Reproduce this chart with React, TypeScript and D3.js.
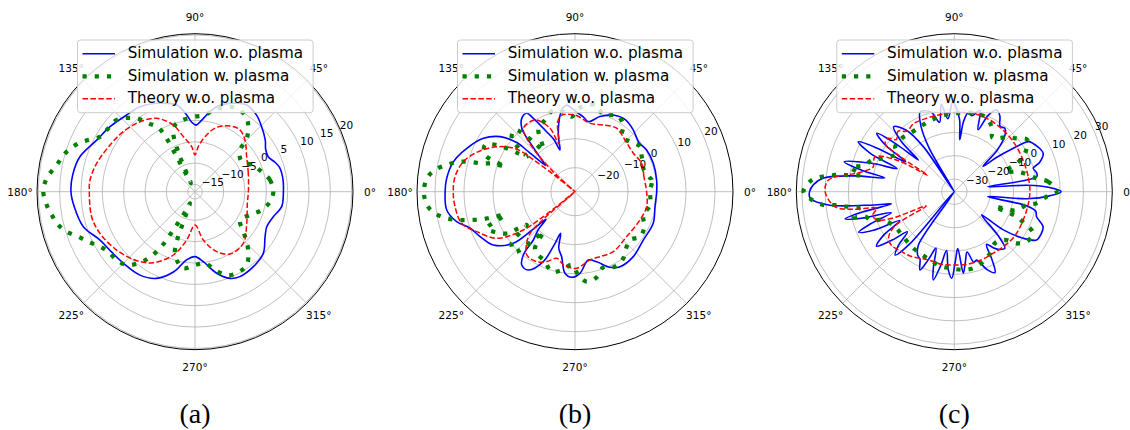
import React from 'react';
import * as d3 from 'd3';

// angle in degrees, gain in dB

// (a)
const aBlue: [number, number][] = [
  [0, 4.0], [8, 4.1], [16, 3.9], [20, 3.3], [25.5, 2.3], [31, 2.6], [36.2, 3.7], [44.3, 5.1],
  [51.2, 6.3], [59.2, 6.95], [66.6, 5.85], [75.7, 3.85], [81.3, 1.5], [85, 0.0], [89, -1.1],
  [93, -0.3], [96.2, 1.35], [101.9, 4.05], [113.4, 5.85], [122.9, 7.0], [131.7, 7.35],
  [142.6, 8.35], [152.3, 9.3], [163, 11.45], [172, 12.2], [180, 12.35], [187, 11.8],
  [197.4, 10.7], [207, 8.25], [216, 7.4], [225, 7.0], [236.6, 6.7], [246.1, 5.5], [255.2, 2.7],
  [263, -0.6], [270, -1.5], [276.8, -0.2], [284.9, 3.05], [292, 5.2], [297.9, 5.8],
  [307.9, 5.55], [317.9, 4.85], [327.3, 2.8], [334, 2.0], [342.3, 2.55], [350.2, 3.9],
];
const aGreen: [number, number][] = [
  [0, 1.64], [8.9, 1.08], [16.7, -0.4], [25.2, -2.0], [32.7, -3.7], [38, -3.4], [42.8, -2.34],
  [45.9, 0.7], [50.6, 2.97], [55.8, 4.54], [63.4, 5.1], [69.5, 4.54], [77.4, 2.9], [82.6, 1.4],
  [90, 0.86], [100, 0.3], [106.7, -0.4], [110.4, -2.1], [113.2, -7.8], [115.5, -14.5],
  [117.5, -10], [119.5, 0.25], [124.3, 2.7], [128.5, 5.24], [137.5, 8.17], [143.8, 8.45],
  [150, 9.0], [154.2, 11.08], [157.5, 12.88], [162.7, 14.78], [169.1, 16.3], [174.8, 18.17],
  [180, 18.83], [185.1, 18.17], [189.2, 17.3], [193.7, 16.25], [197.3, 14.78], [201.1, 12.6],
  [205.1, 10.9], [210.1, 9.0], [214.7, 8.0], [221.1, 7.63], [227, 6.77], [231.6, 4.68],
  [235, 2.34], [237.8, -0.56], [239.3, -3.05], [240.2, -5.86], [241.5, -8.3], [243.5, -10.9],
  [246.5, -13.75], [248.5, -11], [251, -2.27], [255, -0.14], [261.3, 1.45], [270, 0.47],
  [278, 0.23], [284.3, 2.22], [290.8, 4.17], [297, 4.75], [305.2, 4.3], [310.9, 2.39],
  [315.9, 0.14], [320.4, -2.0], [327.8, -4.24], [337, -2.72], [344.7, -0.49], [352.4, 1.03],
];
const aRed: [number, number][] = [
  [0, -4.2], [19, -3.5], [34, -2.1], [46, 0.14], [54, 1.2], [62, 0.72], [71.4, -0.78],
  [79.7, -3.6], [85.8, -6.1], [90, -8.1], [94.2, -6.1], [102, -3.5], [108, -0.28],
  [117.6, 2.7], [128.2, 4.14], [140.1, 5.2], [151.2, 6.0], [163.9, 7.26], [173.6, 8.03],
  [180, 8.05], [193.6, 8.2], [203.7, 7.6], [216.7, 6.16], [229.8, 4.45], [239.6, 2.57],
  [251.1, -1.03], [260.2, -5.2], [270, -8.9], [279.8, -5.2], [289.9, -1.76], [299.3, 0.04],
  [313.1, -0.14], [328.6, -2.5], [347.5, -4.15],
];

// (b)
const bBlue: [number, number][] = [
  [0, -0.13], [8, 0.15], [19.9, 0.42], [30.2, 0.29], [37.4, -0.5], [46.6, 0.97], [55.1, 2.0],
  [63.5, 1.25], [71.6, -1.0], [79.2, -3.7], [83.7, -2.3], [89, -0.8], [95.5, 1.7], [98, 1.0],
  [101, -1.4], [106.4, -7.9], [109.8, -13], [112, -9], [115.3, -5.4], [119.6, 0.8],
  [121.6, 3.46], [126, 2.97], [130, 0.25], [131.4, -2.2], [133, -6.7], [136, -12],
  [138.3, -14.8], [139.3, -7.5], [140, -1.8], [143.7, 3.8], [149.8, 8.3], [158.2, 11.9],
  [166.2, 14.9], [174, 16.2], [180, 16.5], [188.1, 16.4], [194.2, 13.8], [199.2, 10.0],
  [205.3, 7.9], [213.1, 5.36], [219.9, -0.58], [221.8, -8.8], [223.5, -14.5], [226, -10],
  [229.2, -6.3], [230.5, -0.58], [234, 2.94], [239.2, 3.15], [245.6, -1.8], [248.5, -8.3],
  [251, -13.1], [254, -8], [258.4, -5.4], [263, 0.05], [267.8, 1.25], [273.5, -0.1],
  [281, -4.3], [287.2, -3.0], [294.8, 0.4], [301, 1.9], [311.9, 1.8], [324.7, 0.56],
  [338, 0.8], [349.4, -0.23],
];
const bGreen: [number, number][] = [
  [0, -2.4], [8.7, -1.5], [11, -2.2], [18.9, -3.4], [21.3, -3.0], [27.7, -2.3], [34.7, -1.0],
  [42.3, -2.7], [49.7, -3.4], [54.1, 0.1], [61.5, 1.8], [69.7, -0.13], [76, 2.5], [87.7, 0.5],
  [92.5, -2.4], [98.3, -0.4], [104.9, 0.84], [112.7, -1.5], [120, -3.0], [127.2, -10.2],
  [129.8, -5.85], [134.2, 1.4], [139.9, 0.25], [144.1, -7.75], [145.9, -4.7], [149.2, 3.15],
  [152.6, 6.67], [157.8, 5.2], [160.3, -2.7], [161, 1.5], [163.1, 5.3], [164.2, 9.35],
  [165.6, 13.25], [168.2, 16.9], [171.2, 20.6], [174.8, 23.0], [180, 23.8], [185.1, 23.0],
  [188.8, 20.6], [191.7, 16.9], [193.6, 13.1], [195.1, 9.2], [196.5, 5.25], [197.2, 1.15],
  [198.4, -2.85], [200.6, 1.15], [202.5, 4.66], [207, 2.5], [212, -1.2], [212.8, -5.0],
  [214.6, -8.1], [219.2, -0.13], [225, 1.0], [229.2, -6.3], [231.6, -10.7], [235.2, -4.1],
  [246.8, -2.0], [253.8, 0.4], [260.4, -0.9], [267.4, -3.0], [272.3, 0.45], [277.4, 3.0],
  [284.2, 2.15], [290.5, -0.47], [298, 1.0], [305.9, 0.1], [312, -2], [318.7, -3.06],
  [325.3, -1.0], [333, -1.5], [341.2, -3.4], [349.9, -2.0],
];
const bRed: [number, number][] = [
  [0, -3.6], [12.3, -3.96], [23, -3.3], [33.4, -4.2], [46, -3.5], [56.7, -2.1], [67, -3.3],
  [77.6, -4.16], [84.8, -2.9], [90, -1.85], [99.8, -1.5], [104, -3.5], [108.5, -11],
  [111.5, -4.8], [118.1, -0.26], [122.7, 0.4], [129.2, -0.1], [132.1, -3.5], [135, -10],
  [138, -20], [140, -30], [141.2, -20], [142.5, -10], [144, -3.2], [150.1, 2.8], [157.5, 7.8],
  [165, 11.6], [172.9, 13.4], [180, 13.7], [187.1, 13.4], [195.6, 12.3], [202.1, 8.3],
  [210.8, 3.1], [216, -4.85], [218.3, -14.4], [219.5, -30], [221, -14], [223, -7],
  [226.9, -3.9], [232.7, -0.85], [241.3, -0.8], [248, -2.3], [254.6, -4.5], [262, -2.5],
  [271.3, -1.9], [282.4, -4.2], [291, -4.3], [302.6, -3.75], [319, -4.7], [336.5, -3.85],
  [348.2, -3.06],
];

// (c)
const cBlue: [number, number][] = [
  [0, 10.4], [2.5, 5.5], [5, -4], [8.4, -21], [10.3, 0.5], [13, 0.8], [16.5, -0.1], [19, 3.3],
  [23.3, 6.1], [27, 5.6], [31.5, 4.2], [34, 3.0], [36.8, -5.6], [39, -12], [41.5, -19],
  [44, -10], [48, -3], [51.4, -0.65], [55, -1.2], [59, 2.5], [62.6, 4.0], [66, 0.5], [69, -7],
  [72.5, 1.2], [77, -2], [80, -1.0], [82.5, -5], [84, -13], [86, -4], [91, 3], [95, -4],
  [98.5, 2.5], [102, -5], [106, 0], [110, 1.5], [113.2, 1.8], [117, -4], [120, -14],
  [122.5, -36], [124.5, -12], [128, -2], [133, 2.7], [136.5, -4], [138.6, -15], [140.5, -4],
  [143, 6.2], [146, 0], [148.5, -11], [150.5, 2], [152.5, 11], [155.5, 4], [158, -9], [161, 2],
  [164.8, 13.5], [167, 5], [168.8, -5], [171, 8], [174, 21], [177, 25], [180, 26.7],
  [182.6, 26.5], [186, 18.9], [189.3, -0.3], [191, -8], [192.5, 5], [194, 12.8], [196, 6],
  [198.5, -7], [201, 3], [203, 9.1], [205.5, 3], [208, -9], [211.5, 0], [215, 5.3], [218, -2],
  [220.5, -9], [224, -2], [227, 1.7], [229.5, -6], [232, -36], [236, -8], [240, -4], [243, -3],
  [246.3, 1.2], [249, -4], [252, -10], [254.5, -2], [256.6, 3.5], [259.5, -3], [262.5, -10],
  [265.5, -2], [268.3, 1.7], [271, -6], [273.5, -11], [276.3, -0.3], [279, -5], [282, -9],
  [285.5, -4], [288, -4.6], [293, 1], [296.7, 3.4], [299, -2], [301.5, -9], [305, -6],
  [308, -4], [311.8, -2.9], [315, -9], [319.6, -20.1], [322, -9], [326, 0.25], [329.6, 5.5],
  [334, 6], [338.5, 5.5], [343.1, 1.45], [346.5, 0.5], [349, -4], [351.6, -21], [354.5, -4],
  [357.5, 5.5],
];
const cGreen: [number, number][] = [
  [0, 8.5], [6.1, 5.1], [9.2, 0.3], [17.4, -6.7], [21.5, -12.1], [25, -5], [28.5, -0.95],
  [35.5, 3.0], [40.6, -0.3], [46, -3], [52.7, -6.7], [55, -7.1], [60.1, -3.3], [67.7, -0.7],
  [78, -1.0], [90, -1.8], [100, -2.5], [110.4, -3.4], [117.8, -4.0], [127.2, -4.0],
  [134.6, -3.3], [142.8, -3.6], [146.3, -5.8], [154.8, -1.8], [159, 2.5], [163.4, 4.5],
  [167, 10.2], [169.5, 5], [171.2, 11.2], [172, 16.2], [175.3, 25.9], [180, 29.3],
  [183.3, 25.8], [185.8, 21], [186.4, 16], [187.9, 11.1], [189.5, 6.2], [193.9, 9.1],
  [195.6, 4.3], [199, 2.2], [201.7, -2.7], [210.5, -5.9], [219.5, -6.3], [232.2, -5.6],
  [240.9, -5.2], [250.4, -4.4], [259.1, -3.0], [266.8, -2.6], [275.4, -1.8], [283.9, -1.6],
  [292.5, -3.0], [300.1, -4.9], [308.3, -7.3], [316.4, -5.5], [320.4, -0.7], [325.4, 2.3],
  [332.2, 2.8], [336, -3], [338.2, -6.7], [340, -16.9], [343, -8], [349.6, -3.9], [352, 0.2],
  [356.9, 4.2],
];
const cRed: [number, number][] = [
  [0, -3.0], [12, -3.1], [27, -2.9], [40, -2.3], [52, -1.7], [64, -1.1], [76, -0.9], [88, -1.3],
  [100, -1.8], [110, -1.8], [121, -1.4], [128, -2.5], [133, 0], [138, -2], [141, 1], [145, 0.8],
  [147, -8], [148.5, -22], [151, -8], [156, 1.7], [160, 1.5], [163, 0.9], [167, 4], [170, 8.6],
  [174.7, 18.8], [180, 20], [187.2, 16.1], [190, 8], [192.1, -1.4], [196, 1], [200, 0],
  [203, -6], [207, -22], [210, -6], [215, -1], [220, 0], [228.8, -1.25], [236, -2],
  [249, -4.1], [260, -3.8], [269, -4.0], [280, -3.8], [292, -4.0], [302, -4.2], [314, -3.7],
  [326, -3.3], [346, -3.4],
];

const aTicks = [-15, -10, -5, 0, 5, 10, 15, 20];
const bTicks = [-20, -10, 0, 10, 20];
const cTicks = [-30, -20, -10, 0, 10, 20, 30];
const thetaTicks = [0, 45, 90, 135, 180, 225, 270, 315];
const legendLabels = ['Simulation w.o. plasma', 'Simulation w. plasma', 'Theory w.o. plasma'];
const captions = ['(a)', '(b)', '(c)'];

const W = 1130;
const H = 430;
const R = 158;
const CY = 191.7;
const font = 'DejaVu Sans, sans-serif';

const lineStyles = [
  { stroke: '#0000ff', width: 1.6, dash: undefined as string | undefined, cap: 'butt' },
  { stroke: '#008000', width: 4.2, dash: '4.2 8', cap: 'butt' },
  { stroke: '#ff0000', width: 1.5, dash: '5.5 2.4', cap: 'butt' },
];

const panels = [
  { cx: 195, domain: [-16.7, 20.3], ticks: aTicks, series: [aBlue, aGreen, aRed] },
  { cx: 575, domain: [-28.3, 26.2], ticks: bTicks, series: [bBlue, bGreen, bRed] },
  { cx: 954.3, domain: [-35.5, 32.4], ticks: cTicks, series: [cBlue, cGreen, cRed] },
];

const rad = (deg: number) => (deg * Math.PI) / 180;

function Panel({ idx }: { idx: number }) {
  const p = panels[idx];
  const cx = p.cx;
  const r = d3.scaleLinear().domain(p.domain).range([0, R]).clamp(true);
  const line = d3
    .lineRadial<[number, number]>()
    .angle((d) => rad(90 - d[0]))
    .radius((d) => r(d[1]))
    .curve(d3.curveCatmullRomClosed.alpha(0.5));
  const clipId = `clip-${idx}`;
  const lab = rad(22.5);

  return (
    <g>
      <defs>
        <clipPath id={clipId}>
          <circle cx={cx} cy={CY} r={R} />
        </clipPath>
      </defs>

      {/* grid */}
      {p.ticks.map((t) => (
        <circle key={t} cx={cx} cy={CY} r={r(t)} fill="none" stroke="#b0b0b0" strokeWidth={0.8} />
      ))}
      {thetaTicks.map((a) => (
        <line
          key={a}
          x1={cx}
          y1={CY}
          x2={cx + R * Math.cos(rad(a))}
          y2={CY - R * Math.sin(rad(a))}
          stroke="#b0b0b0"
          strokeWidth={0.8}
        />
      ))}

      {/* curves */}
      <g clipPath={`url(#${clipId})`}>
        {p.series.map((s, i) => (
          <path
            key={i}
            d={line(s) || ''}
            transform={`translate(${cx},${CY})`}
            fill="none"
            stroke={lineStyles[i].stroke}
            strokeWidth={lineStyles[i].width}
            strokeDasharray={lineStyles[i].dash}
            strokeLinecap="butt"
            strokeLinejoin="round"
          />
        ))}
      </g>

      <circle cx={cx} cy={CY} r={R} fill="none" stroke="#000" strokeWidth={1} />

      {/* angle labels */}
      {thetaTicks.map((a) => (
        <text
          key={a}
          x={cx + 175 * Math.cos(rad(a))}
          y={CY - 175 * Math.sin(rad(a))}
          textAnchor="middle"
          dominantBaseline="central"
          fontFamily={font}
          fontSize={10.5}
          fill="#000"
        >
          {`${a}°`}
        </text>
      ))}

      {/* radial labels */}
      {p.ticks.map((t) => (
        <text
          key={t}
          x={cx + r(t) * Math.cos(lab)}
          y={CY - r(t) * Math.sin(lab) - 3}
          fontFamily={font}
          fontSize={10.5}
          fill="#000"
        >
          {t < 0 ? `\u2212${-t}` : `${t}`}
        </text>
      ))}

      {/* legend */}
      <rect
        x={cx - 117.5}
        y={40}
        width={235.6}
        height={72.7}
        rx={3}
        fill="#fff"
        fillOpacity={0.8}
        stroke="#cccccc"
        strokeWidth={1}
      />
      {legendLabels.map((lbl, i) => {
        const base = 58.3 + i * 22.5;
        return (
          <g key={lbl}>
            <line
              x1={cx - 112.5}
              x2={cx - 80}
              y1={base - 4.5}
              y2={base - 4.5}
              stroke={lineStyles[i].stroke}
              strokeWidth={lineStyles[i].width}
              strokeDasharray={lineStyles[i].dash}
              strokeLinecap="butt"
            />
            <text x={cx - 67.3} y={base} fontFamily={font} fontSize={15.2} fill="#000">
              {lbl}
            </text>
          </g>
        );
      })}

      <text
        x={cx}
        y={423}
        textAnchor="middle"
        fontFamily="Liberation Serif, serif"
        fontSize={28}
        fill="#000"
      >
        {captions[idx]}
      </text>
    </g>
  );
}

export default function App() {
  return (
    <div style={{ position: 'absolute', left: 0, top: 0 }}>
      <svg width={W} height={H} viewBox={`0 0 ${W} ${H}`} style={{ display: 'block', background: '#fff' }}>
        {panels.map((_, i) => (
          <Panel key={i} idx={i} />
        ))}
      </svg>
    </div>
  );
}
